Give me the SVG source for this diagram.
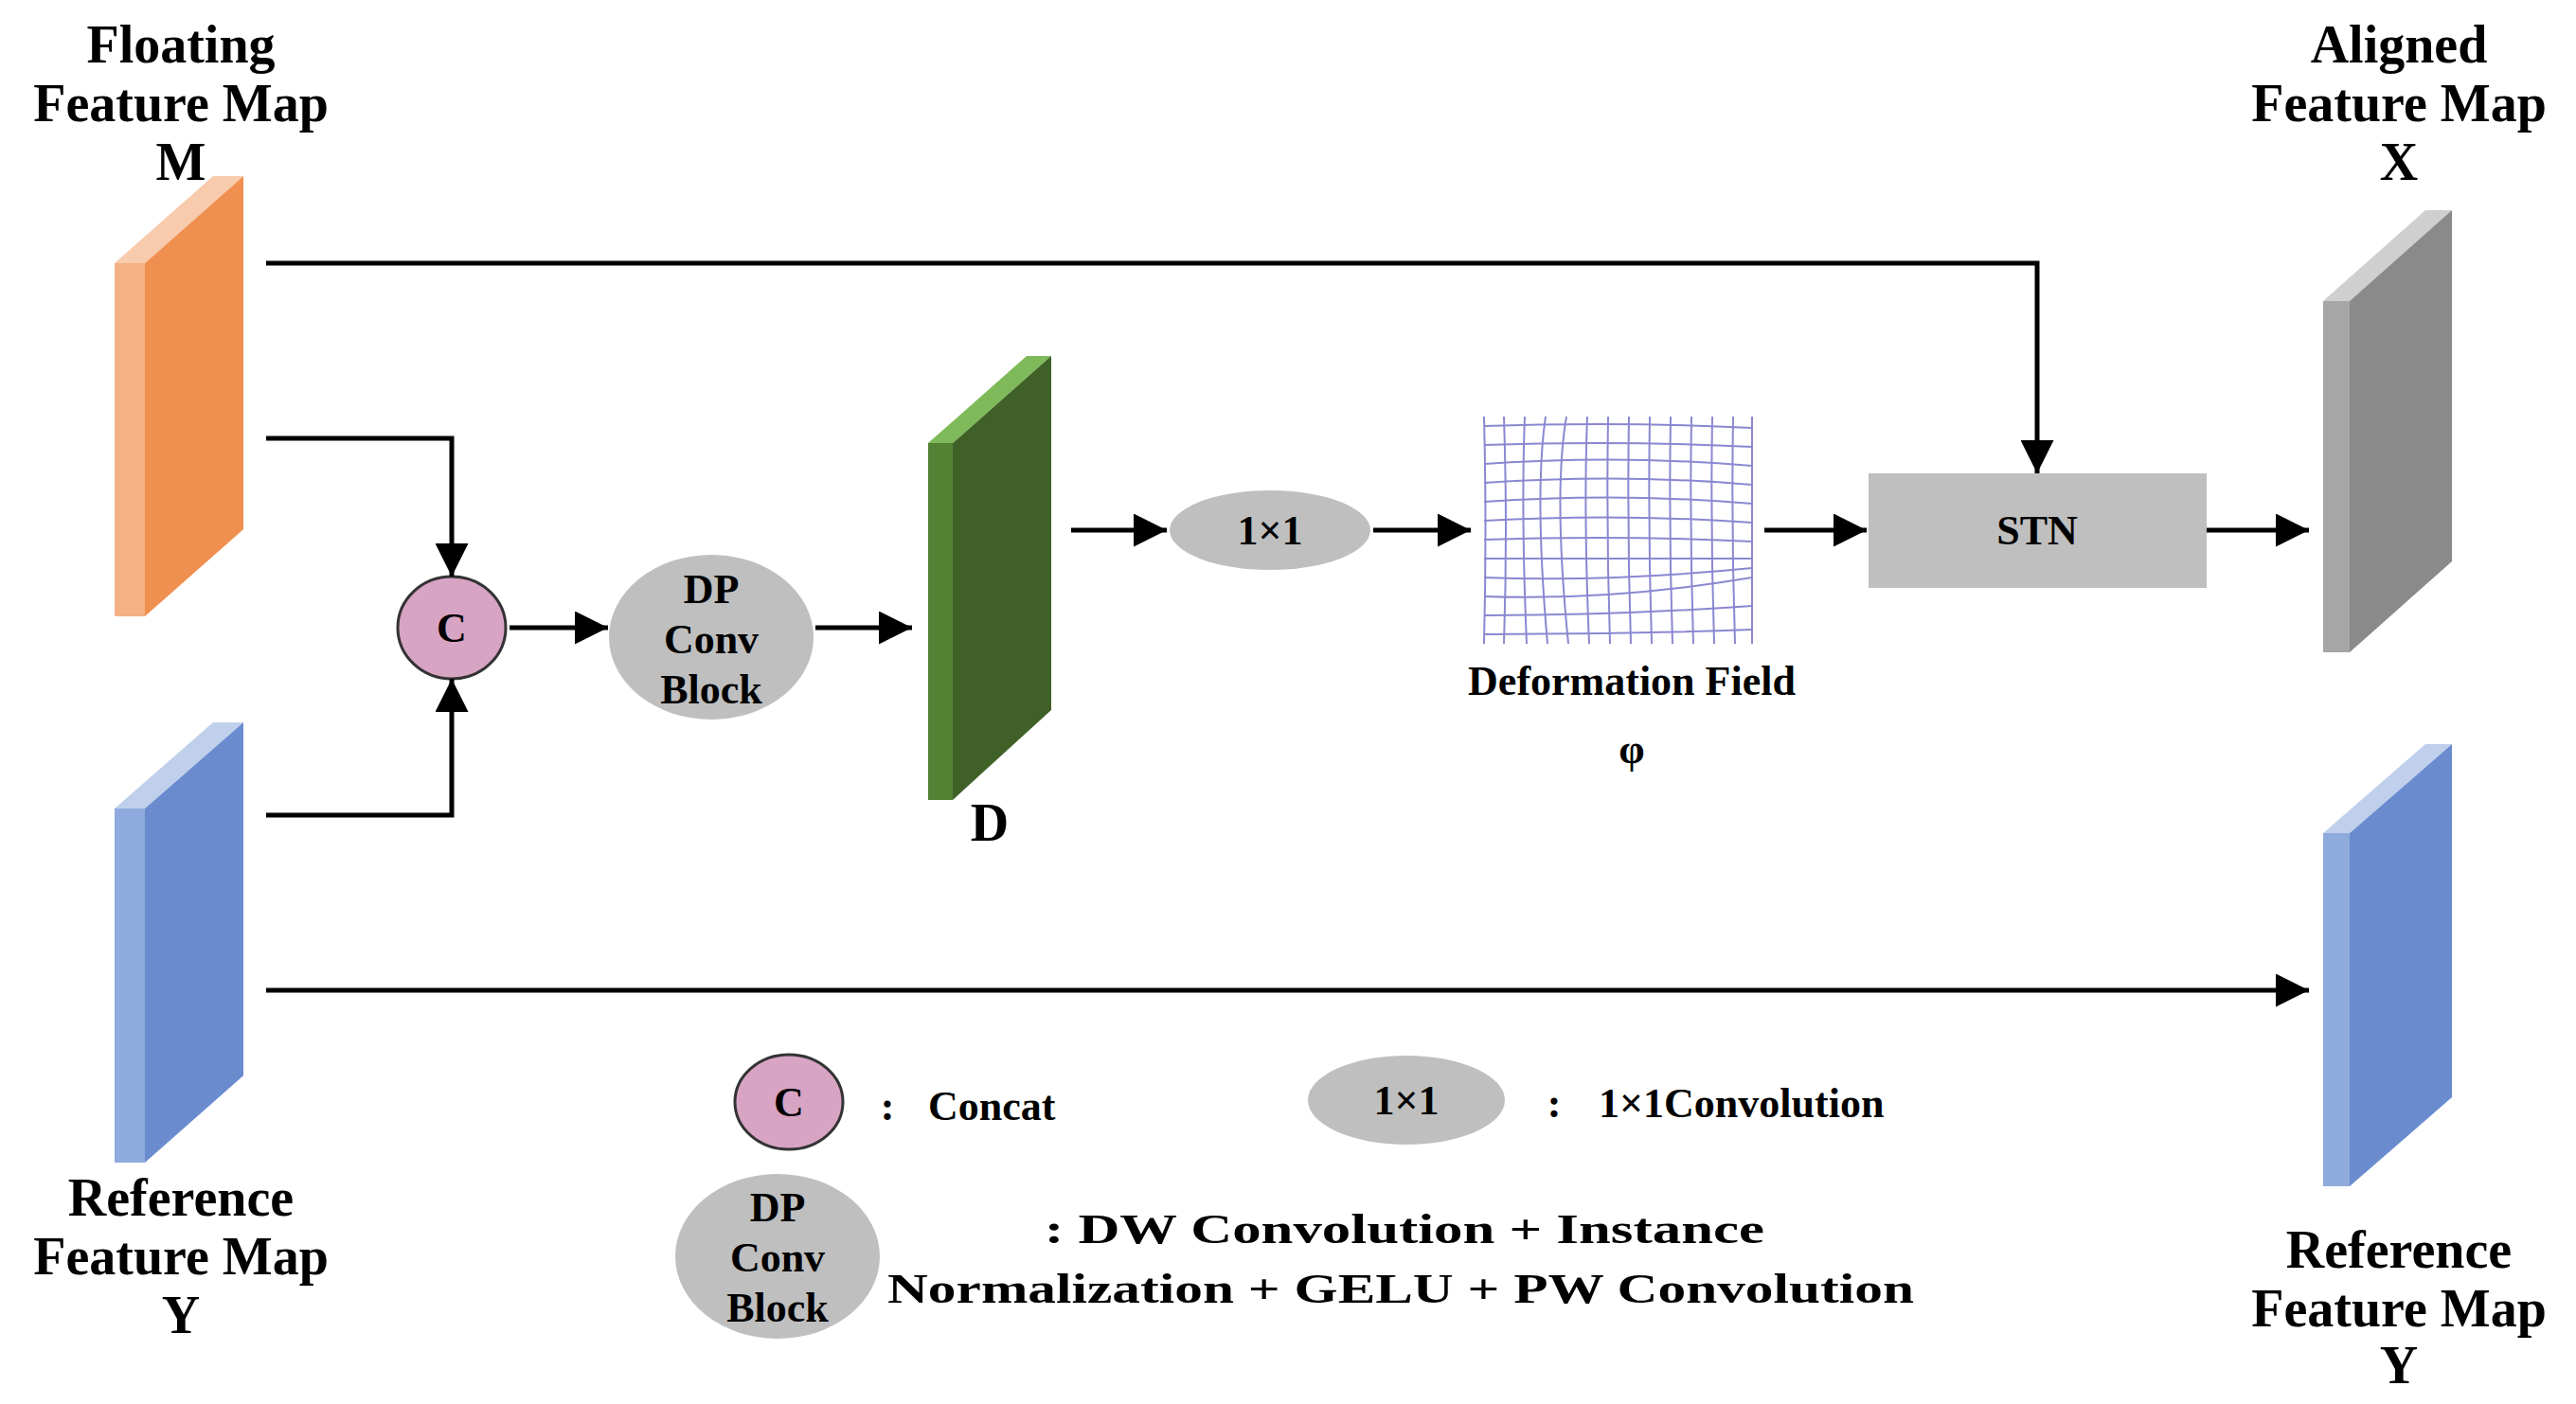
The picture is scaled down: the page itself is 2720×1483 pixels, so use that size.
<svg xmlns="http://www.w3.org/2000/svg" width="2720" height="1483" viewBox="0 0 2720 1483">
<style>
text{font-family:"Liberation Serif","Times New Roman",serif;font-weight:bold;fill:#000;text-anchor:middle}
.t{font-size:56px}
.s{font-size:44px}
.c{stroke:#000;stroke-width:5;fill:none}
.g path{stroke:#8a88d0;stroke-width:2;fill:none}
</style>
<defs>
<marker id="ah" markerWidth="10" markerHeight="8" refX="9" refY="4" orient="auto" markerUnits="userSpaceOnUse" viewBox="0 0 10 8">
<path d="M0,0 L10,4 L0,8 Z" fill="#000"/>
</marker>
<marker id="a" viewBox="0 0 10 10" refX="10" refY="5" markerWidth="7" markerHeight="7" orient="auto"><path d="M0,0 L10,5 L0,10 Z" fill="#000"/></marker>
</defs>
<rect width="2720" height="1483" fill="#fff"/>

<g id="floating">
<polygon points="121,278 153,278 153,651 121,651" fill="#f4b183"/>
<polygon points="121,278 225,186 257,186 153,278" fill="#f8cbad"/>
<polygon points="153,278 257,186 257,559 153,651" fill="#f09050"/>
<text class="t" x="191" y="66">Floating</text>
<text class="t" x="191" y="128">Feature Map</text>
<text class="t" x="191" y="190">M</text>
</g>
<g id="reference-left">
<polygon points="121,854 153,854 153,1228 121,1228" fill="#8faadc"/>
<polygon points="121,854 225,763 257,763 153,854" fill="#c0d0ec"/>
<polygon points="153,854 257,763 257,1136 153,1228" fill="#6a8ccf"/>
<text class="t" x="191" y="1284">Reference</text>
<text class="t" x="191" y="1346">Feature Map</text>
<text class="t" x="191" y="1408">Y</text>
</g>
<g id="D">
<polygon points="980,468 1006,468 1006,845 980,845" fill="#548235"/>
<polygon points="980,468 1084,376 1110,376 1006,468" fill="#7fba5a"/>
<polygon points="1006,468 1110,376 1110,750 1006,845" fill="#3f6128"/>
<text class="t" x="1045" y="888">D</text>
</g>
<g id="aligned">
<polygon points="2453,318 2481,318 2481,689 2453,689" fill="#a6a6a6"/>
<polygon points="2453,318 2561,222 2589,222 2481,318" fill="#cfcfcf"/>
<polygon points="2481,318 2589,222 2589,593 2481,689" fill="#8a8a8a"/>
<text class="t" x="2533" y="66">Aligned</text>
<text class="t" x="2533" y="128">Feature Map</text>
<text class="t" x="2533" y="190">X</text>
</g>
<g id="reference-right">
<polygon points="2453,880 2481,880 2481,1253 2453,1253" fill="#8faadc"/>
<polygon points="2453,880 2561,786 2589,786 2481,880" fill="#c0d0ec"/>
<polygon points="2481,880 2589,786 2589,1159 2481,1253" fill="#6a8ccf"/>
<text class="t" x="2533" y="1339">Reference</text>
<text class="t" x="2533" y="1401">Feature Map</text>
<text class="t" x="2533" y="1461">Y</text>
</g>
<g id="concat">
<ellipse cx="477" cy="663" rx="57" ry="54" fill="#d8a4c4" stroke="#333" stroke-width="3"/>
<text class="s" x="477" y="678">C</text>
</g>
<g id="dpconv">
<ellipse cx="751" cy="673" rx="108" ry="87" fill="#bfbfbf"/>
<text class="s" x="751" y="637">DP</text>
<text class="s" x="751" y="690">Conv</text>
<text class="s" x="751" y="743">Block</text>
</g>
<g id="conv1x1">
<ellipse cx="1341" cy="560" rx="106" ry="42" fill="#bfbfbf"/>
<text class="s" x="1341" y="575">1×1</text>
</g>
<g id="field">
<g class="g">
<path d="M1567,440 Q1570,560 1567,680"/>
<path d="M1588,440 Q1592,560 1588,680"/>
<path d="M1610,440 Q1606,540 1612,680"/>
<path d="M1632,440 Q1620,520 1634,680"/>
<path d="M1654,440 Q1640,520 1656,680"/>
<path d="M1676,440 Q1672,540 1678,680"/>
<path d="M1698,440 Q1696,560 1700,680"/>
<path d="M1720,440 Q1718,560 1722,680"/>
<path d="M1742,440 Q1740,560 1744,680"/>
<path d="M1764,440 Q1762,560 1766,680"/>
<path d="M1786,440 Q1784,560 1788,680"/>
<path d="M1808,440 Q1806,560 1810,680"/>
<path d="M1830,440 Q1828,560 1832,680"/>
<path d="M1850,440 Q1850,560 1850,680"/>
<path d="M1567,450 Q1710,445 1850,452"/>
<path d="M1567,470 Q1710,465 1850,472"/>
<path d="M1567,490 Q1710,480 1850,492"/>
<path d="M1567,510 Q1710,500 1850,512"/>
<path d="M1567,530 Q1710,520 1850,532"/>
<path d="M1567,550 Q1710,542 1850,552"/>
<path d="M1567,570 Q1710,565 1850,572"/>
<path d="M1567,590 Q1710,590 1850,590"/>
<path d="M1567,610 Q1700,615 1850,600"/>
<path d="M1567,630 Q1700,635 1850,610"/>
<path d="M1567,650 Q1710,650 1850,640"/>
<path d="M1567,670 Q1710,670 1850,665"/>
</g>
<text class="s" x="1723" y="734">Deformation Field</text>
<text class="s" x="1723" y="806">φ</text>
</g>
<g id="stn">
<rect x="1973" y="500" width="357" height="121" fill="#bfbfbf"/>
<text class="s" x="2151" y="575">STN</text>
</g>
<g id="connectors">
<path class="c" marker-end="url(#a)" d="M281,278 H2151 V500"/>
<path class="c" marker-end="url(#a)" d="M281,463 H477 V609"/>
<path class="c" marker-end="url(#a)" d="M281,861 H477 V717"/>
<path class="c" marker-end="url(#a)" d="M538,663 H642"/>
<path class="c" marker-end="url(#a)" d="M861,663 H963"/>
<path class="c" marker-end="url(#a)" d="M1131,560 H1232"/>
<path class="c" marker-end="url(#a)" d="M1450,560 H1553"/>
<path class="c" marker-end="url(#a)" d="M1863,560 H1971"/>
<path class="c" marker-end="url(#a)" d="M2330,560 H2438"/>
<path class="c" marker-end="url(#a)" d="M281,1046 H2438"/>
</g>
<g id="legend">
<ellipse cx="833" cy="1164" rx="57" ry="50" fill="#d8a4c4" stroke="#333" stroke-width="3"/>
<text class="s" x="833" y="1179">C</text>
<text class="s" x="937" y="1183">:</text>
<text class="s" x="980" y="1183" style="text-anchor:start">Concat</text>
<ellipse cx="1485" cy="1162" rx="104" ry="47" fill="#bfbfbf"/>
<text class="s" x="1485" y="1177">1×1</text>
<text class="s" x="1641" y="1180">:</text>
<text class="s" x="1688" y="1180" style="text-anchor:start">1×1Convolution</text>
<ellipse cx="821" cy="1327" rx="108" ry="87" fill="#bfbfbf"/>
<text class="s" x="821" y="1290">DP</text>
<text class="s" x="821" y="1343">Conv</text>
<text class="s" x="821" y="1396">Block</text>
<text class="s" x="1103" y="1313" style="text-anchor:start" textLength="760" lengthAdjust="spacingAndGlyphs">:  DW Convolution + Instance</text>
<text class="s" x="937" y="1376" style="text-anchor:start" textLength="1084" lengthAdjust="spacingAndGlyphs">Normalization + GELU + PW Convolution</text>
</g>
</svg>
